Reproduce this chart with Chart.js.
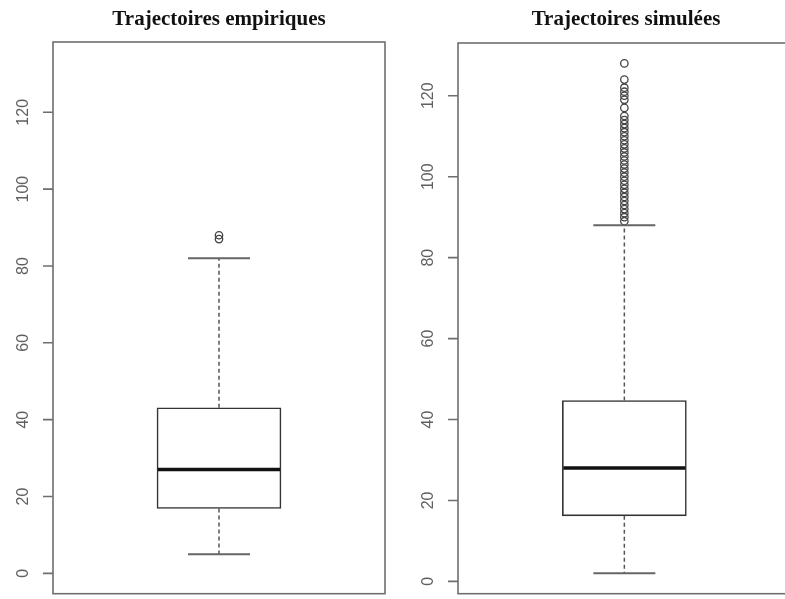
<!DOCTYPE html>
<html>
<head>
<meta charset="utf-8">
<script src="https://cdn.jsdelivr.net/npm/chart.js@4"></script>
<style>
  html, body { margin: 0; padding: 0; background: #fff; overflow: hidden; }
  body { width: 785px; height: 599px; position: relative; }
  canvas { position: absolute; top: 0; }
</style>
</head>
<body>
<canvas id="empChart" width="392" height="599" style="left:0px"></canvas>
<canvas id="simChart" width="404" height="599" style="left:392px"></canvas>
<script>
// boxplot numbers: [lower whisker, Q1, median, Q3, upper whisker]
const empTitle = 'Trajectoires empiriques';
const empStats = [5, 16.9, 27, 43.1, 82];
const empOutliers = [87, 88];

const simTitle = 'Trajectoires simulées';
const simStats = [2, 16.2, 28, 44.7, 88];
const simOutliers = [128, 124, 122, 121, 120, 119, 117, 115, 114, 113, 112, 111, 110, 109,
  108, 107, 106, 105, 104, 103, 102, 101, 100, 99, 98, 97, 96, 95, 94, 93, 92, 91, 90, 89];

const yTicks = [0, 20, 40, 60, 80, 100, 120];
const empLimits = [-5.3, 138.3];
const simLimits = [-3.04, 133.04];

// draws median, whiskers, frame and the R style axis
const rBoxPlugin = {
  id: 'rBox',
  afterDatasetsDraw(chart) {
    const st = chart.options.plugins.rBox.stats;
    const x = chart.scales.x, y = chart.scales.y;
    const cx = x.getPixelForValue(0);
    const ctx = chart.ctx;
    ctx.save();
    // whiskers
    ctx.strokeStyle = '#555';
    ctx.lineWidth = 1.5;
    ctx.setLineDash([4, 3]);
    ctx.beginPath();
    ctx.moveTo(cx, y.getPixelForValue(st[3]));
    ctx.lineTo(cx, y.getPixelForValue(st[4]));
    ctx.moveTo(cx, y.getPixelForValue(st[1]));
    ctx.lineTo(cx, y.getPixelForValue(st[0]));
    ctx.stroke();
    ctx.setLineDash([]);
    // caps
    ctx.strokeStyle = '#666';
    ctx.lineWidth = 2;
    ctx.beginPath();
    [st[0], st[4]].forEach(v => {
      const py = y.getPixelForValue(v);
      ctx.moveTo(cx - 31, py);
      ctx.lineTo(cx + 31, py);
    });
    ctx.stroke();
    // median
    const bar = chart.getDatasetMeta(0).data[0];
    ctx.strokeStyle = '#111';
    ctx.lineWidth = 3.5;
    ctx.beginPath();
    const my = y.getPixelForValue(st[2]);
    ctx.moveTo(bar.x - bar.width / 2 + 1, my);
    ctx.lineTo(bar.x + bar.width / 2 - 1, my);
    ctx.stroke();
    ctx.restore();
  },
  afterDraw(chart) {
    const a = chart.chartArea;
    const y = chart.scales.y;
    const ctx = chart.ctx;
    ctx.save();
    ctx.strokeStyle = '#6e6e6e';
    ctx.lineWidth = 1.6;
    ctx.strokeRect(a.left, a.top, a.right - a.left, a.bottom - a.top);
    ctx.beginPath();
    yTicks.forEach(t => {
      const py = y.getPixelForValue(t);
      ctx.moveTo(a.left - 10, py);
      ctx.lineTo(a.left, py);
    });
    ctx.stroke();
    ctx.fillStyle = '#606060';
    ctx.font = '16px "Liberation Sans", Arial, sans-serif';
    ctx.textAlign = 'center';
    ctx.textBaseline = 'middle';
    yTicks.forEach(t => {
      const py = y.getPixelForValue(t);
      ctx.save();
      ctx.translate(a.left - 29, py);
      ctx.rotate(-Math.PI / 2);
      ctx.fillText(String(t), 0, 0);
      ctx.restore();
    });
    ctx.restore();
  }
};

function makeBox(id, title, stats, outliers, limits, pad, titlePad) {
  new Chart(document.getElementById(id), {
    type: 'bar',
    data: {
      labels: [title],
      datasets: [{
        data: [[stats[1], stats[3]]],
        backgroundColor: '#fff',
        borderColor: '#333',
        borderWidth: 1.6,
        borderSkipped: false,
        barThickness: 124
      }, {
        type: 'line',
        showLine: false,
        data: outliers.map(v => ({ x: title, y: v })),
        pointRadius: 3.7,
        pointBackgroundColor: 'rgba(255,255,255,0)',
        pointBorderColor: '#444',
        pointBorderWidth: 1.3
      }]
    },
    options: {
      responsive: false,
      animation: false,
      devicePixelRatio: 1,
      layout: { padding: pad },
      scales: {
        x: { display: false },
        y: { display: false, min: limits[0], max: limits[1] }
      },
      plugins: {
        legend: { display: false },
        tooltip: { enabled: false },
        title: {
          display: true,
          text: title,
          color: '#111',
          font: { family: '"Liberation Serif", "Times New Roman", serif', size: 21, weight: 'bold' },
          padding: titlePad
        },
        rBox: { stats: stats }
      }
    },
    plugins: [rBoxPlugin]
  });
}

makeBox('empChart', empTitle, empStats, empOutliers, empLimits,
  { left: 53, right: 7, top: 0, bottom: 3 }, { top: 7, bottom: 9.8 });
makeBox('simChart', simTitle, simStats, simOutliers, simLimits,
  { left: 66, right: 2, top: 0, bottom: 2 }, { top: 7, bottom: 10.8 });
</script>
</body>
</html>
